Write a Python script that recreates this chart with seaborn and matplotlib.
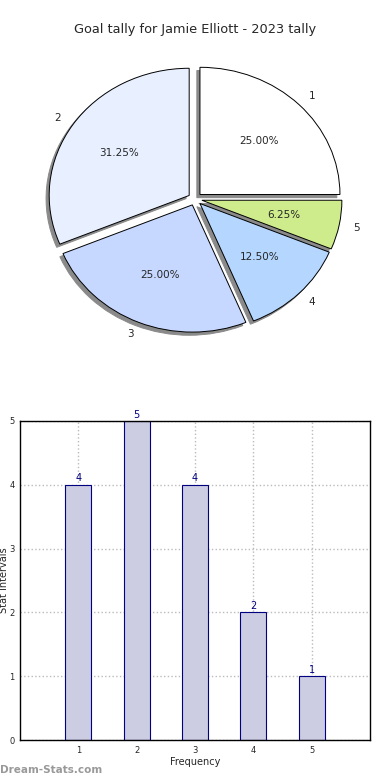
import pandas as pd
import matplotlib
matplotlib.use('Agg')
import matplotlib.pyplot as plt
import seaborn as sns

# Data
goals = [1, 2, 3, 4, 5]
tally = [4, 5, 4, 2, 1]
pie_labels = ['1', '2', '3', '4', '5']
pie_colors = ['#ffffff', '#e8f0ff', '#c6d8ff', '#b4d6ff', '#ceec8c']
title = 'Goal tally for Jamie Elliott - 2023 tally'

sns.set_style('white')
plt.rcParams['font.family'] = ['DejaVu Sans']

fig = plt.figure(figsize=(3.9, 7.8), dpi=100)

# Pie chart
ax1 = fig.add_axes([20 / 390, 1 - 358 / 780, 350 / 390, 318 / 780])
wedges, texts, autotexts = ax1.pie(
    tally, labels=pie_labels, colors=pie_colors, explode=[0.05] * 5,
    autopct='%.2f%%', pctdistance=0.6, labeldistance=1.1,
    shadow={'ox': -0.016, 'oy': -0.018, 'alpha': 1,
            'facecolor': '#8a8a8a', 'edgecolor': '#8a8a8a'},
    startangle=0, wedgeprops={'edgecolor': 'black', 'linewidth': 0.7},
    textprops={'fontsize': 7.5})
ax1.set_aspect('auto')
ax1.set_xlim(-1.25, 1.25)
ax1.set_ylim(-1.25, 1.25)
ax1.axis('off')
fig.text(0.5, 1 - 30 / 780, title, ha='center', va='center', fontsize=9.3)

# Bar chart
ax2 = fig.add_axes([20 / 390, 40 / 780, 350 / 390, 319 / 780])
df = pd.DataFrame({'goals': goals, 'tally': tally})
sns.barplot(data=df, x='goals', y='tally', native_scale=True, width=0.45,
            color='#ccccE2', edgecolor='#000080', linewidth=0.8,
            saturation=1, ax=ax2)
ax2.bar_label(ax2.containers[0], color='#000080', fontsize=7, padding=1)
ax2.set_xlim(0, 6)
ax2.set_ylim(0, 5)
ax2.set_xticks(goals)
ax2.set_yticks(range(0, 6))
ax2.tick_params(labelsize=6, length=0, pad=4)
ax2.grid(True, linestyle=':', color='#bbbbbb', linewidth=1)
for s in ax2.spines.values():
    s.set_color('black')
    s.set_linewidth(1)
ax2.set_xlabel('Frequency', fontsize=7, labelpad=2)
ax2.set_ylabel('Stat Intervals', fontsize=7)
ax2.yaxis.set_label_coords(-0.03, 0.5)

fig.text(0.0, 1 - 770 / 780, 'Dream-Stats.com', ha='left', va='center',
         fontsize=7.5, color='#999999', fontweight='bold')

fig.savefig('out.png', dpi=100)
